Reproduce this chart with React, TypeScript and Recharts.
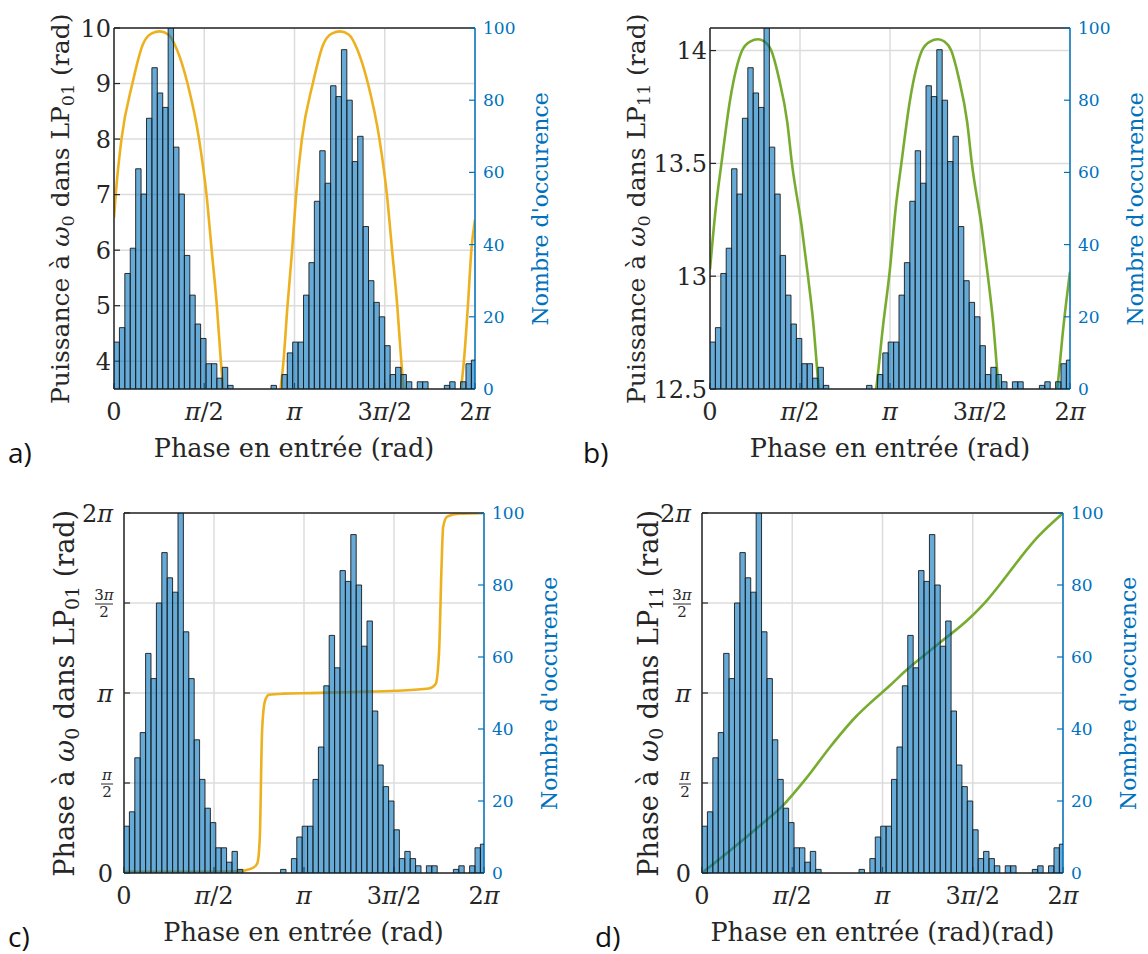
import { Bar, CartesianGrid, ComposedChart, Line, XAxis, YAxis } from "recharts";

const PI = Math.PI;

// Histogramme : nombre d'occurence par classe de phase (largeur de classe 0.03*pi)
const binWidth = 0.03 * PI;
const counts = [
    13, 17, 32, 39, 61, 54, 75, 89, 82, 78, 100, 67, 54, 37, 26, 18, 14, 7, 7, 3, 6, 1,
    0, 0, 0, 0, 0, 0, 0, 1, 0,
    4, 10, 13, 13, 26, 35, 52, 66, 57, 84, 81, 94, 80, 63, 70, 45, 30, 24, 20, 12, 4, 6, 4, 2, 0, 2, 2,
    0, 0, 0, 1, 2, 0, 2, 7, 8,
];

// a) Puissance dans LP01
const puissance01X = [0, 0.03, 0.13, 0.32, 0.5, 0.65, 0.8, 0.95, 1.1, 1.28, 1.48, 1.61, 1.7, 1.79, 1.86, 1.9, 2.0, 2.37, 2.78, 2.9, 2.95, 3.02, 3.1, 3.17, 3.27, 3.46, 3.64, 3.79, 3.94, 4.09, 4.24, 4.42, 4.62, 4.75, 4.84, 4.93, 5.0, 5.04, 5.14, 5.51, 5.92, 6.04, 6.09, 6.16, 6.22, 6.283];
const puissance01Y = [6.58, 7.0, 8.0, 9.0, 9.7, 9.9, 9.94, 9.88, 9.6, 9.0, 8.0, 7.0, 6.0, 5.0, 4.0, 3.5, 2.2, 0.8, 2.2, 3.5, 4.0, 5.0, 6.0, 7.0, 8.0, 9.0, 9.7, 9.9, 9.94, 9.88, 9.6, 9.0, 8.0, 7.0, 6.0, 5.0, 4.0, 3.5, 2.2, 0.8, 2.2, 3.5, 4.0, 5.0, 6.0, 6.55];

// b) Puissance dans LP11
const puissance11X = [0, 0.1, 0.2, 0.35, 0.56, 0.7, 0.84, 0.95, 1.07, 1.2, 1.35, 1.43, 1.6, 1.71, 1.8, 1.9, 2.0, 2.37, 2.76, 2.9, 3.02, 3.14, 3.24, 3.34, 3.49, 3.7, 3.84, 3.98, 4.09, 4.21, 4.34, 4.49, 4.57, 4.74, 4.85, 4.94, 5.04, 5.14, 5.51, 5.9, 6.06, 6.17, 6.283];
const puissance11Y = [13.03, 13.3, 13.5, 13.78, 14.0, 14.04, 14.05, 14.04, 14.0, 13.88, 13.68, 13.5, 13.22, 13.0, 12.8, 12.5, 12.3, 12.0, 12.3, 12.5, 12.78, 13.03, 13.3, 13.5, 13.78, 14.0, 14.04, 14.05, 14.04, 14.0, 13.88, 13.68, 13.5, 13.22, 13.0, 12.8, 12.5, 12.3, 12.0, 12.3, 12.5, 12.78, 13.02];

// c) Phase dans LP01
const phase01X = [0, 1.0, 1.98, 2.09, 2.27, 2.33, 2.37, 2.41, 2.46, 2.53, 2.79, 3.26, 4.0, 4.74, 5.32, 5.44, 5.5, 5.54, 5.57, 5.64, 5.85, 6.283];
const phase01Y = [0.02, 0.02, 0.03, 0.04, 0.1, 0.18, 0.61, 2.48, 3.0, 3.11, 3.13, 3.14, 3.16, 3.18, 3.22, 3.3, 3.88, 5.28, 6.04, 6.22, 6.27, 6.28];

// d) Phase dans LP11
const phase11X = [0, 0.5, 1.0, 1.41, 1.82, 2.23, 2.69, 2.92, 3.28, 3.51, 4.09, 4.67, 4.96, 5.25, 5.54, 5.84, 6.283];
const phase11Y = [0, 0.4, 0.82, 1.18, 1.66, 2.2, 2.74, 2.96, 3.28, 3.5, 3.98, 4.46, 4.76, 5.12, 5.5, 5.86, 6.28];

const phaseTicks = [0, PI / 2, PI, 1.5 * PI, 2 * PI];
const phaseTickLabels = ["0", "π/2", "π", "3π/2", "2π"];
const countTicks = [0, 20, 40, 60, 80, 100];
const ticksA = [4, 5, 6, 7, 8, 9, 10];
const ticksB = [12.5, 13, 13.5, 14];

const SERIF = "'DejaVu Serif', serif";
const INK = "#262626";
const BLUE = "#0072BD";
const YELLOW = "#EDB120";
const GREEN = "#77AC30";

const MARGIN = { top: 19, right: 20, bottom: 30, left: 30 };

function withPi(label: string) {
    return label.split(/(π)/).filter(Boolean).map((s, i) =>
        s === "π" ? <tspan key={i} fontStyle="italic">π</tspan> : <tspan key={i}>{s}</tspan>
    );
}

function phaseIndex(v: number) {
    return phaseTicks.findIndex((t) => Math.abs(t - v) < 1e-6);
}

function XTick(props: any) {
    const { x, y, payload } = props;
    const label = phaseTickLabels[phaseIndex(payload.value)] ?? "";
    return (
        <text x={x} y={y + 31} textAnchor="middle" fontFamily={SERIF} fontSize={24} fill={INK}>
            {withPi(label)}
        </text>
    );
}

function NumTick(props: any) {
    const { x, y, payload } = props;
    return (
        <text x={x - 3} y={y} dy="0.36em" textAnchor="end" fontFamily={SERIF} fontSize={24} fill={INK}>
            {String(payload.value)}
        </text>
    );
}

function PhaseTick(props: any) {
    const { x, y, payload } = props;
    const i = phaseIndex(payload.value);
    const right = x - 11;
    if (i === 1 || i === 3) {
        const half = i === 1 ? 6 : 9;
        const cx = right - half;
        return (
            <g fontFamily={SERIF} fill={INK}>
                <text x={cx} y={y - 3} textAnchor="middle" fontSize={15}>{withPi(i === 1 ? "π" : "3π")}</text>
                <line x1={cx - half} x2={cx + half} y1={y + 1} y2={y + 1} stroke={INK} strokeWidth={1} />
                <text x={cx} y={y + 14} textAnchor="middle" fontSize={15}>2</text>
            </g>
        );
    }
    return (
        <text x={right} y={y} dy="0.36em" textAnchor="end" fontFamily={SERIF} fontSize={24} fill={INK}>
            {withPi(phaseTickLabels[i] ?? "")}
        </text>
    );
}

// axes communs aux deux calques ; "visible" = false garde la place sans rien dessiner
function axes(yDomain: number[], yTicks: number[], phaseAxis: boolean, visible: boolean) {
    const axisStroke = visible ? { stroke: INK, strokeWidth: 1.5 } : false;
    const tickStroke = visible ? { stroke: INK, strokeWidth: 1.2 } : false;
    return [
        <XAxis key="x" dataKey="x" type="number" domain={[0, 2 * PI]} ticks={phaseTicks} interval={0} allowDataOverflow
            height={60} tick={visible ? <XTick /> : false} tickSize={-6} tickMargin={6}
            axisLine={axisStroke} tickLine={tickStroke} />,
        <XAxis key="line" xAxisId="line" dataKey="t" type="number" domain={[0, 2 * PI]} allowDataOverflow hide />,
        <XAxis key="top" xAxisId="top" orientation="top" type="number" domain={[0, 2 * PI]} ticks={phaseTicks} interval={0}
            allowDataOverflow height={1} tick={false} tickSize={-6}
            axisLine={axisStroke} tickLine={tickStroke} />,
        <YAxis key="left" type="number" domain={yDomain} ticks={yTicks} interval={0} allowDataOverflow width={80}
            tick={visible ? (phaseAxis ? <PhaseTick /> : <NumTick />) : false} tickSize={-6} tickMargin={6}
            axisLine={axisStroke} tickLine={tickStroke} />,
        <YAxis key="right" yAxisId="right" orientation="right" type="number" domain={[0, 100]} ticks={countTicks} interval={0}
            allowDataOverflow width={70}
            tick={visible ? { fill: BLUE, fontSize: 17, fontFamily: SERIF } : false} tickSize={-6} tickMargin={14}
            axisLine={visible ? { stroke: BLUE, strokeWidth: 1.5 } : false}
            tickLine={visible ? { stroke: BLUE, strokeWidth: 1.2 } : false} />,
    ];
}

function Panel(props: any) {
    const { left, top, w, h, lineX, lineY, color, yDomain, yTicks, phaseAxis } = props;
    const bins = counts.map((c, i) => ({ x: (i + 0.5) * binWidth, count: c }));
    const line = lineX.map((x: number, i: number) => ({ t: x, y: lineY[i] }));
    // largeur d'une classe en pixels (un poil en dessous pour que recharts la garde telle quelle)
    const barPx = (w * binWidth) / (2 * PI) - 0.01;
    return (
        <div style={{ position: "absolute", left: left - 110, top: top - 20, width: w + 200, height: h + 110 }}>
            {/* calque du fond : grille, axes, courbe */}
            <ComposedChart width={w + 200} height={h + 110} data={bins} margin={MARGIN}>
                <CartesianGrid stroke="#dcdcdc" strokeWidth={1.5} />
                {axes(yDomain, yTicks, phaseAxis, true)}
                <Line xAxisId="line" data={line} dataKey="y" type="monotone" stroke={color} strokeWidth={2.6} dot={false}
                    isAnimationActive={false} />
            </ComposedChart>
            {/* calque du dessus : histogramme semi-transparent */}
            <div style={{ position: "absolute", left: 0, top: 0 }}>
                <ComposedChart width={w + 200} height={h + 110} data={bins} barGap={0} barCategoryGap={0} margin={MARGIN}>
                    {axes(yDomain, yTicks, phaseAxis, false)}
                    <Bar yAxisId="right" dataKey="count" barSize={barPx} fill={BLUE} fillOpacity={0.6}
                        stroke="#1a1a1a" strokeWidth={0.9} isAnimationActive={false} />
                </ComposedChart>
            </div>
        </div>
    );
}

function LeftTitle(props: any) {
    const { x, y, size, word, mode } = props;
    const sub = size * 0.7;
    return (
        <text transform={`translate(${x} ${y}) rotate(-90)`} textAnchor="middle" fontFamily={SERIF} fontSize={size} fill={INK}>
            <tspan>{word} à </tspan>
            <tspan fontStyle="italic">ω</tspan>
            <tspan fontSize={sub} dy={5}>0</tspan>
            <tspan dy={-5}> dans LP</tspan>
            <tspan fontSize={sub} dy={5}>{mode}</tspan>
            <tspan dy={-5}> (rad)</tspan>
        </text>
    );
}

function RightTitle(props: any) {
    const { x, y } = props;
    return (
        <text transform={`translate(${x} ${y}) rotate(-90)`} textAnchor="middle" fontFamily={SERIF} fontSize={22} fill={BLUE}>
            Nombre d'occurence
        </text>
    );
}

function BottomTitle(props: any) {
    const { x, y, text } = props;
    return (
        <text x={x} y={y} textAnchor="middle" fontFamily={SERIF} fontSize={25.5} fill={INK}>{text}</text>
    );
}

function Letter(props: any) {
    return (
        <text x={props.x} y={props.y} fontFamily="'Open Sans', sans-serif" fontSize={28} fill="#111">{props.text}</text>
    );
}

export default function App() {
    const A = { left: 113.5, top: 28.3, w: 361, h: 361 };
    const B = { left: 710, top: 28.3, w: 360, h: 361 };
    const C = { left: 123.5, top: 513.3, w: 360, h: 360 };
    const D = { left: 702, top: 513.3, w: 361, h: 360 };
    return (
        <div style={{ position: "absolute", left: 0, top: 0, width: 1148, height: 954, background: "#fff", overflow: "hidden" }}>
            <Panel {...A} lineX={puissance01X} lineY={puissance01Y} color={YELLOW} yDomain={[3.5, 10]} yTicks={ticksA} />
            <Panel {...B} lineX={puissance11X} lineY={puissance11Y} color={GREEN} yDomain={[12.5, 14.1]} yTicks={ticksB} />
            <Panel {...C} lineX={phase01X} lineY={phase01Y} color={YELLOW} yDomain={[0, 2 * PI]} yTicks={phaseTicks} phaseAxis />
            <Panel {...D} lineX={phase11X} lineY={phase11Y} color={GREEN} yDomain={[0, 2 * PI]} yTicks={phaseTicks} phaseAxis />
            <svg width={1148} height={954} style={{ position: "absolute", left: 0, top: 0, pointerEvents: "none" }}>
                <LeftTitle x={69} y={A.top + A.h / 2} size={25} word="Puissance" mode="01" />
                <LeftTitle x={645} y={B.top + B.h / 2} size={25} word="Puissance" mode="11" />
                <LeftTitle x={74} y={C.top + C.h / 2} size={27} word="Phase" mode="01" />
                <LeftTitle x={658} y={D.top + D.h / 2} size={27} word="Phase" mode="11" />
                <RightTitle x={A.left + A.w + 73} y={A.top + A.h / 2} />
                <RightTitle x={B.left + B.w + 73} y={B.top + B.h / 2} />
                <RightTitle x={C.left + C.w + 73} y={C.top + C.h / 2} />
                <RightTitle x={D.left + D.w + 73} y={D.top + D.h / 2} />
                <BottomTitle x={A.left + A.w / 2} y={A.top + A.h + 67.4} text="Phase en entrée (rad)" />
                <BottomTitle x={B.left + B.w / 2} y={B.top + B.h + 67.4} text="Phase en entrée (rad)" />
                <BottomTitle x={C.left + C.w / 2} y={C.top + C.h + 67.4} text="Phase en entrée (rad)" />
                <BottomTitle x={D.left + D.w / 2} y={D.top + D.h + 67.4} text="Phase en entrée (rad)(rad)" />
                <Letter x={8} y={463} text="a)" />
                <Letter x={583} y={463} text="b)" />
                <Letter x={8} y={947} text="c)" />
                <Letter x={595} y={947} text="d)" />
            </svg>
        </div>
    );
}
